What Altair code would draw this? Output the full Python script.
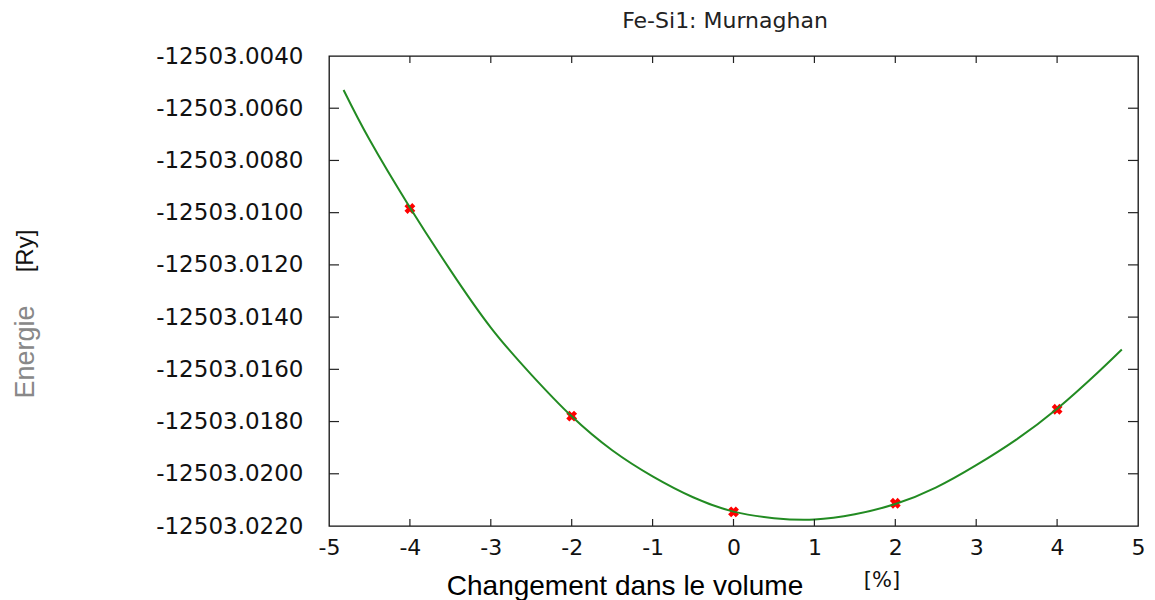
import altair as alt
import pandas as pd

# ---- data ----
curve_x = [-4.82, -4.5, -4.0, -3.5, -3.0, -2.5, -2.0, -1.5, -1.0, -0.5, 0.0,
           0.5, 1.0, 1.5, 2.0, 2.5, 3.0, 3.5, 4.0, 4.5, 4.8]
curve_e = [-12503.0053, -12503.0072, -12503.0098, -12503.0122, -12503.0144,
           -12503.0162, -12503.0178, -12503.0191, -12503.0201, -12503.0209,
           -12503.02145, -12503.0217, -12503.02175, -12503.02155, -12503.02116,
           -12503.02053, -12503.01967, -12503.01868, -12503.01751, -12503.01613,
           -12503.01524]

pts_x = [-4, -2, 0, 2, 4]
pts_e = [-12503.00984, -12503.01779, -12503.02146, -12503.02113, -12503.01753]

x_ticks = [-5, -4, -3, -2, -1, 0, 1, 2, 3, 4, 5]
y_ticks = [-12503.004, -12503.006, -12503.008, -12503.010, -12503.012,
           -12503.014, -12503.016, -12503.018, -12503.020, -12503.022]

title_text = "Fe-Si1: Murnaghan"
x_title = "Changement dans le volume"
x_unit = "[%]"
y_title = "Energie"
y_unit = "[Ry]"

W, H = 809, 470

curve_df = pd.DataFrame({"x": curve_x, "e": curve_e})
pts_df = pd.DataFrame({"x": pts_x, "e": pts_e})
xt_df = pd.DataFrame({"x": x_ticks[1:-1]})
yt_df = pd.DataFrame({"e": y_ticks[1:-1]})

xs = alt.Scale(domain=[-5, 5], nice=False, zero=False)
ys = alt.Scale(domain=[-12503.022, -12503.004], nice=False, zero=False)

x_axis = alt.Axis(values=x_ticks, title=None, grid=False, domain=False, ticks=False,
                  tickSize=0, labelFont="DejaVu Sans", labelFontSize=22,
                  labelColor="#111111", labelPadding=11, labelFlush=False,
                  labelOverlap=False,
                  labelExpr="datum.value < 0 ? '-' + format(abs(datum.value), 'd') : format(datum.value, 'd')")
y_axis = alt.Axis(values=y_ticks, title=None, grid=False, domain=False, ticks=False,
                  tickSize=0, labelFont="DejaVu Sans", labelFontSize=23,
                  labelColor="#111111", labelPadding=26, labelOverlap=False,
                  labelExpr="'-' + format(abs(datum.value), '.4f')")

X = alt.X("x:Q", scale=xs, axis=x_axis)
Y = alt.Y("e:Q", scale=ys, axis=y_axis)

points = alt.Chart(pts_df).mark_point(shape="cross", angle=45, filled=True, size=120,
                                      color="#ff0000", opacity=1).encode(x=X, y=Y)

curve = alt.Chart(curve_df).mark_line(color="#228b22", strokeWidth=2,
                                      interpolate="natural").encode(x=X, y=Y)

tick_col = "#222222"
bottom_ticks = alt.Chart(xt_df).mark_rule(color=tick_col, strokeWidth=1.2).encode(
    x=X, y=alt.value(H - 7), y2=alt.value(H))
top_ticks = alt.Chart(xt_df).mark_rule(color=tick_col, strokeWidth=1.2).encode(
    x=X, y=alt.value(0), y2=alt.value(7))
left_ticks = alt.Chart(yt_df).mark_rule(color=tick_col, strokeWidth=1.2).encode(
    y=Y, x=alt.value(0), x2=alt.value(10))
right_ticks = alt.Chart(yt_df).mark_rule(color=tick_col, strokeWidth=1.2).encode(
    y=Y, x=alt.value(W - 10), x2=alt.value(W))

one = alt.Data(values=[{"a": 1}])

title_mark = alt.Chart(one).mark_text(
    text=title_text, font="DejaVu Sans", fontSize=22, color="#222222",
    align="center", baseline="alphabetic").encode(x=alt.value(396), y=alt.value(-28))

xtitle_mark = alt.Chart(one).mark_text(
    text=x_title, font="Liberation Sans", fontSize=28, color="#000000",
    align="center", baseline="alphabetic").encode(x=alt.value(296), y=alt.value(539))

xunit_mark = alt.Chart(one).mark_text(
    text=x_unit, font="DejaVu Sans", fontSize=21, color="#111111",
    align="center", baseline="alphabetic").encode(x=alt.value(553), y=alt.value(531))

ytitle_mark = alt.Chart(one).mark_text(
    text=y_title, font="Liberation Sans", fontSize=27, color="#888888",
    angle=270, align="center", baseline="middle").encode(x=alt.value(-303), y=alt.value(296))

yunit_mark = alt.Chart(one).mark_text(
    text=y_unit, font="Liberation Sans Narrow, Liberation Sans", fontSize=24,
    color="#111111", angle=270, align="center", baseline="middle").encode(
    x=alt.value(-303), y=alt.value(195))

chart = alt.layer(
    points, curve, bottom_ticks, top_ticks, left_ticks, right_ticks,
    title_mark, xtitle_mark, xunit_mark, ytitle_mark, yunit_mark,
).properties(
    width=W, height=H,
    autosize=alt.AutoSizeParams(type="none"),
    padding={"left": 329, "top": 56, "right": 17, "bottom": 74},
    background="white",
).configure_view(stroke="#111111", strokeWidth=1.3)

chart.save("out.html", embed_options={"renderer": "svg", "actions": False})
